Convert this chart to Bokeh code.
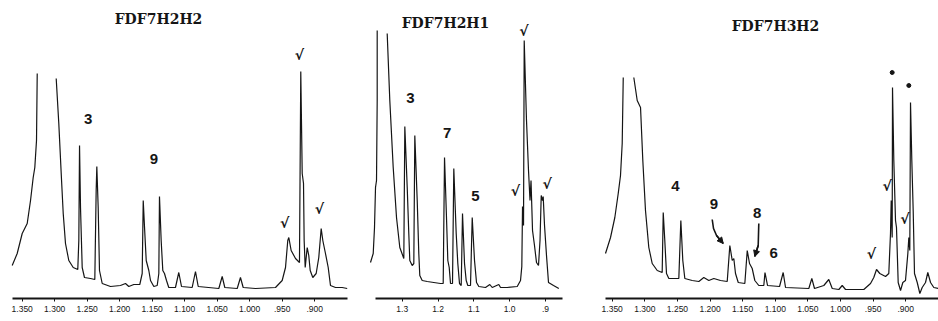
import numpy as np
from bokeh.plotting import figure
from bokeh.layouts import row
from bokeh.models import Range1d, LinearAxis, FixedTicker, CustomJSTickFormatter, Arrow, NormalHead
from bokeh.core.properties import value
from bokeh.embed import file_html
from bokeh.resources import INLINE

nan = float("nan")

# ---------------- Panel 1 : FDF7H2H2 (ppm, intensity a.u.) ----------------
title1 = "FDF7H2H2"
spec1 = [
    (1.3654, 33), (1.3577, 45), (1.3500, 65), (1.3423, 75), (1.3372, 98),
    (1.3331, 121), (1.3306, 131), (1.3280, 158), (1.3269, 225), (nan, nan),
    (1.2977, 220), (1.2937, 175), (1.2900, 125), (1.2869, 85), (1.2834, 55),
    (1.2783, 38), (1.2715, 31), (1.2645, 29), (1.2629, 58), (1.2618, 153),
    (1.2603, 91), (1.2577, 31), (1.2542, 21), (1.2449, 20), (1.2383, 19),
    (1.2362, 108), (1.2352, 132), (1.2331, 91), (1.2311, 28), (1.2269, 15),
    (1.2142, 12), (1.1988, 13), (1.1911, 15), (1.1860, 12), (1.1783, 14),
    (1.1691, 14), (1.1654, 25), (1.1638, 98), (1.1618, 71), (1.1592, 38),
    (1.1568, 32), (1.1552, 28), (1.1526, 18), (1.1475, 12), (1.1423, 13),
    (1.1398, 25), (1.1388, 102), (1.1362, 58), (1.1337, 28), (1.1311, 25),
    (1.1280, 18), (1.1245, 11), (1.1168, 11), (1.1142, 11), (1.1091, 26),
    (1.1049, 12), (1.0885, 11), (1.0834, 27), (1.0792, 12), (1.0475, 10),
    (1.0423, 22), (1.0383, 11), (1.0192, 10), (1.0142, 21), (1.0100, 11),
    (0.9911, 10), (0.9603, 11), (0.9500, 18), (0.9449, 31), (0.9414, 58),
    (0.9398, 61), (0.9362, 48), (0.9295, 40), (0.9234, 36), (0.9214, 227),
    (0.9192, 125), (0.9172, 115), (0.9162, 58), (0.9146, 31), (0.9115, 51),
    (0.9091, 43), (0.9069, 28), (0.9029, 21), (0.8977, 25), (0.8937, 41),
    (0.8900, 70), (0.8875, 58), (0.8834, 45), (0.8792, 31), (0.8757, 13),
    (0.8680, 11), (0.8577, 11), (0.8500, 10),
]
ticks1 = [1.35, 1.30, 1.25, 1.20, 1.15, 1.10, 1.05, 1.00, 0.95, 0.90]
labels1_text = ["3", "9"]
labels1_x = [1.2485, 1.1475]
labels1_y = [180, 140]
checks1_x = [0.9234, 0.9460, 0.8926]
checks1_y = [244, 76, 90]

# ---------------- Panel 2 : FDF7H2H1 ----------------
title2 = "FDF7H2H1"
spec2 = [
    (1.3885, 36), (1.3809, 45), (1.3773, 71), (1.3745, 111), (1.3717, 118),
    (1.3698, 198), (1.3698, 268), (nan, nan),
    (1.3419, 265), (1.3346, 198), (1.3251, 131), (1.3159, 81), (1.3067, 51),
    (1.2955, 40), (1.2927, 172), (1.2860, 111), (1.2816, 65), (1.2788, 38),
    (1.2721, 33), (1.2676, 35), (1.2648, 163), (1.2581, 98), (1.2537, 45),
    (1.2509, 23), (1.2442, 18), (1.2302, 17), (1.2118, 16), (1.1931, 15),
    (1.1856, 15), (1.1819, 141), (1.1764, 81), (1.1727, 38), (1.1688, 31),
    (1.1652, 15), (1.1596, 15), (1.1560, 130), (1.1493, 65), (1.1448, 35),
    (1.1401, 15), (1.1353, 13), (1.1317, 85), (1.1261, 35), (1.1214, 18),
    (1.1169, 13), (1.1094, 13), (1.1046, 81), (1.0982, 38), (1.0926, 16),
    (1.0862, 12), (1.0675, 11), (1.0555, 14), (1.0488, 11), (1.0304, 14),
    (1.0256, 11), (1.0069, 11), (0.9790, 12), (0.9698, 18), (0.9662, 32),
    (0.9642, 92), (0.9614, 73), (0.9595, 258), (0.9531, 178), (0.9475, 128),
    (0.9433, 98), (0.9405, 118), (0.9363, 68), (0.9308, 53), (0.9252, 36),
    (0.9196, 33), (0.9154, 58), (0.9120, 103), (0.9084, 98), (0.9065, 102),
    (0.9028, 73), (0.8973, 43), (0.8917, 16), (0.8777, 13), (0.8629, 10),
]
ticks2 = [1.3, 1.2, 1.1, 1.0, 0.9]
labels2_text = ["3", "7", "5"]
labels2_x = [1.2768, 1.1744, 1.0954]
labels2_y = [201, 166, 103]
checks2_x = [0.9606, 0.9838, 0.8953]
checks2_y = [268, 108, 115]

# ---------------- Panel 3 : FDF7H3H2 ----------------
title3 = "FDF7H3H2"
spec3 = [
    (1.3603, 45), (1.3526, 61), (1.3460, 81), (1.3408, 105), (1.3373, 123),
    (1.3347, 155), (1.3331, 221), (nan, nan),
    (1.3169, 221), (1.3117, 198), (1.3066, 191), (1.3031, 138), (1.2990, 88),
    (1.2939, 51), (1.2887, 35), (1.2810, 28), (1.2734, 26), (1.2718, 86),
    (1.2694, 58), (1.2668, 25), (1.2632, 20), (1.2479, 20), (1.2448, 78),
    (1.2418, 38), (1.2387, 20), (1.2274, 18), (1.2172, 17), (1.2096, 21),
    (1.2019, 18), (1.1942, 20), (1.1840, 18), (1.1737, 17), (1.1697, 53),
    (1.1660, 38), (1.1636, 40), (1.1610, 25), (1.1568, 16), (1.1467, 15),
    (1.1430, 48), (1.1395, 35), (1.1354, 30), (1.1314, 18), (1.1253, 13),
    (1.1176, 13), (1.1158, 26), (1.1119, 13), (1.0935, 12), (1.0879, 26),
    (1.0843, 11), (1.0486, 10), (1.0440, 20), (1.0399, 10), (1.0256, 13),
    (1.0180, 19), (1.0127, 10), (1.0026, 9), (0.9974, 13), (0.9923, 9),
    (0.9643, 9), (0.9540, 15), (0.9490, 21), (0.9448, 29), (0.9398, 25),
    (0.9310, 22), (0.9260, 25), (0.9234, 65), (0.9223, 98), (0.9208, 61),
    (0.9203, 211), (0.9183, 138), (0.9157, 78), (0.9142, 71), (0.9116, 16),
    (0.9080, 8), (0.9045, 16), (0.9004, 18), (0.8968, 45), (0.8953, 61),
    (0.8938, 48), (0.8927, 196), (0.8907, 138), (0.8886, 88), (0.8866, 25),
    (0.8824, 16), (0.8784, 5), (0.8748, 11), (0.8697, 16), (0.8662, 26),
    (0.8620, 16), (0.8570, 11), (0.8498, 10),
]
ticks3 = [1.35, 1.30, 1.25, 1.20, 1.15, 1.10, 1.05, 1.00, 0.95, 0.90]
labels3_text = ["4", "9", "8", "6"]
labels3_x = [1.2530, 1.1942, 1.1277, 1.1023]
labels3_y = [113, 95, 86, 46]
checks3_x = [0.9284, 0.9525, 0.9014]
checks3_y = [113, 45, 80]
dots3_x = [0.9208, 0.8953]
dots3_y = [226, 213]
arrow9_x = [1.1967, 1.1947, 1.1901, 1.1798]
arrow9_y = [79, 70, 63, 55]
arrow8_x = [1.1253, 1.1262, 1.1314]
arrow8_y = [75, 53, 42]

INK = "#151515"
H = 321


def make_panel(width, xr, bounds, spec, ticks, digits, title, title_x, title_y,
               lab_x, lab_y, lab_t, chk_x, chk_y):
    p = figure(width=width, height=H, x_range=Range1d(*xr), y_range=Range1d(-23, 298),
               output_backend="svg", toolbar_location=None,
               x_axis_location=None, y_axis_location=None,
               min_border_left=0, min_border_right=0, min_border_top=0, min_border_bottom=0)
    p.outline_line_color = None
    p.grid.visible = False
    p.background_fill_color = "white"
    p.border_fill_color = "white"

    xs = np.array([a for a, _ in spec], dtype=float)
    ys = np.array([b for _, b in spec], dtype=float)
    p.line(xs, ys, line_color=INK, line_width=1.2)

    ax = LinearAxis(fixed_location=0, bounds=bounds,
                    ticker=FixedTicker(ticks=ticks),
                    formatter=CustomJSTickFormatter(
                        code="return tick.toFixed(%d).replace(/^0\\./, '.');" % digits),
                    axis_line_width=2, axis_line_color=INK,
                    major_tick_out=3, major_tick_in=0, major_tick_line_color=INK,
                    minor_tick_out=0, minor_tick_in=0,
                    major_label_standoff=4,
                    major_label_text_font_size="8.5px",
                    major_label_text_font="Liberation Sans",
                    major_label_text_color=INK)
    p.add_layout(ax, "below")

    p.text([title_x], [title_y], text=[title], text_font=value("DejaVu Serif"),
           text_font_style="bold", text_font_size="14px", text_color=INK,
           text_align="center", text_baseline="middle")
    p.text(lab_x, lab_y, text=lab_t, text_font=value("Liberation Sans"),
           text_font_style="bold", text_font_size="15px", text_color=INK,
           text_align="center", text_baseline="middle")
    p.text(chk_x, chk_y, text=["√"] * len(chk_x), text_font=value("DejaVu Sans"),
           text_font_style="bold", text_font_size="14px", text_color=INK,
           text_align="center", text_baseline="middle")
    return p


p1 = make_panel(350, (1.3834, 0.8449), (1.3649, 0.8495), spec1, ticks1, 3,
                title1, 1.1403, 280, labels1_x, labels1_y, labels1_text, checks1_x, checks1_y)
p2 = make_panel(240, (1.4443, 0.7745), (1.3745, 0.8526), spec2, ticks2, 1,
                title2, 1.1792, 276, labels2_x, labels2_y, labels2_text, checks2_x, checks2_y)
p3 = make_panel(348, (1.3833, 0.8498), (1.3603, 0.8498), spec3, ticks3, 3,
                title3, 1.0997, 273, labels3_x, labels3_y, labels3_text, checks3_x, checks3_y)

p3.scatter(dots3_x, dots3_y, size=4, color=INK)
for ax_, ay_ in ((arrow9_x, arrow9_y), (arrow8_x, arrow8_y)):
    p3.line(ax_, ay_, line_color=INK, line_width=1.6)
    p3.add_layout(Arrow(end=NormalHead(size=6, fill_color=INK, line_color=INK),
                        x_start=ax_[-2], y_start=ay_[-2], x_end=ax_[-1], y_end=ay_[-1],
                        line_color=INK, line_width=1.6))

layout = row(p1, p2, p3)
open("out.html", "w").write(file_html(layout, INLINE))
